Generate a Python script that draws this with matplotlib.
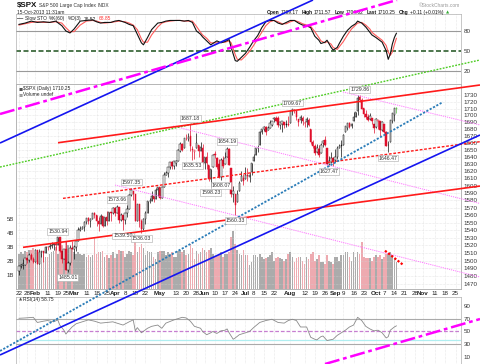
import numpy as np
import pandas as pd
import matplotlib
matplotlib.use("Agg")
import matplotlib.pyplot as plt
from matplotlib.ticker import NullLocator
from matplotlib import font_manager

plt.rcParams['font.family'] = ['Liberation Sans', 'DejaVu Sans']
_names = {f.name for f in font_manager.fontManager.ttflist}
NARROW_OK = 'Liberation Sans Narrow' in _names
NARROW = ['Liberation Sans Narrow', 'DejaVu Sans'] if NARROW_OK else ['Liberation Sans', 'DejaVu Sans']

# ---------------- data ----------------
first_day, last_day = '2013-01-22', '2013-11-29'
holidays = ['2013-02-18', '2013-03-29', '2013-05-27', '2013-07-04', '2013-09-02', '2013-11-28']

open_ = [1485.98,1492.56,1494.81,1494.82,1502.96,1500.18,1507.84,1501.96,
 1498.11,1513.17,1495.71,1511.29,1512.12,1509.39,1517.93,1517.01,1519.43,1520.33,1521.38,1519.79,1530.94,1511.95,1502.42,1515.60,1487.85,1496.94,1515.99,
 1514.68,1518.20,1525.20,1539.79,1541.46,1544.26,1551.15,1556.22,1552.48,1554.52,1563.21,1560.70,1552.10,1548.34,1558.71,1545.90,1556.89,1551.69,1563.75,1562.86,
 1569.18,1562.17,1570.25,1553.69,1559.98,1553.26,1563.11,1568.61,1587.73,1593.30,1588.84,1552.36,1574.57,1552.03,1541.61,1555.25,1562.50,1578.78,1578.78,1585.16,1582.34,1593.58,
 1597.55,1582.77,1597.60,1614.40,1617.55,1625.95,1632.69,1626.69,1632.10,1633.75,1649.13,1658.07,1652.45,1665.71,1666.20,1669.39,1651.62,1646.67,1652.63,1656.57,1649.14,1652.13,
 1631.71,1640.73,1629.05,1609.29,1625.27,1644.67,1638.64,1629.94,1612.15,1635.52,1630.64,1639.77,1651.83,1624.62,1588.62,1588.77,1577.52,1592.27,1606.44,1611.12,
 1609.78,1614.29,1611.48,1618.65,1634.20,1642.89,1652.28,1657.41,1675.26,1679.59,1682.70,1677.91,1681.05,1686.15,1694.41,1696.63,1696.06,1685.21,1687.31,1690.32,1687.92,1687.76,
 1689.42,1706.10,1708.01,1705.79,1695.30,1693.35,1696.10,1688.37,1690.65,1693.88,1679.61,1661.22,1655.25,1646.81,1650.66,1645.03,1659.92,1664.29,1652.54,1630.25,1633.50,1638.89,
 1635.95,1640.72,1653.28,1657.44,1656.85,1675.11,1681.04,1689.21,1685.04,1691.70,1697.73,1705.74,1727.34,1722.44,1711.44,1702.60,1698.02,1694.05,1695.52,1687.26,
 1682.41,1691.90,1692.35,1678.79,1687.15,1676.22,1656.99,1660.88,1691.09,1699.86,1709.17]
high = [1492.56,1496.13,1502.27,1503.26,1503.23,1509.35,1509.94,1504.19,
 1514.41,1513.17,1514.96,1512.53,1512.90,1518.31,1518.31,1522.29,1524.69,1523.14,1524.24,1530.94,1530.94,1511.95,1515.64,1525.84,1498.99,1520.08,1525.34,
 1519.99,1525.27,1543.47,1545.25,1545.78,1552.48,1556.27,1556.77,1556.39,1563.32,1563.62,1560.70,1557.25,1561.56,1558.71,1557.74,1564.91,1563.95,1564.07,1570.28,
 1570.57,1573.66,1571.47,1562.60,1559.98,1563.07,1573.89,1589.07,1597.35,1593.30,1588.84,1575.35,1574.57,1554.38,1555.89,1565.55,1579.58,1583.00,1592.64,1585.78,1596.65,1597.57,
 1597.55,1598.60,1618.46,1619.77,1626.03,1632.78,1635.01,1633.70,1636.00,1651.10,1661.49,1660.51,1667.47,1672.84,1674.93,1687.18,1655.50,1649.78,1674.21,1656.57,1661.91,1658.99,
 1640.42,1646.53,1629.31,1622.56,1644.40,1648.69,1640.13,1637.71,1639.25,1640.80,1646.50,1654.19,1652.45,1624.62,1599.19,1588.77,1593.79,1606.83,1620.07,1615.94,
 1626.61,1624.26,1618.97,1632.07,1644.68,1652.66,1656.92,1676.63,1680.19,1684.51,1683.73,1684.75,1693.12,1692.09,1697.61,1698.78,1698.38,1690.94,1691.85,1690.92,1693.19,1698.43,
 1707.85,1709.67,1709.24,1705.79,1695.30,1700.18,1699.42,1691.49,1696.81,1695.52,1679.61,1663.60,1659.18,1658.92,1656.99,1659.55,1664.85,1669.51,1652.54,1641.18,1646.41,1640.08,
 1651.35,1655.72,1659.17,1664.83,1672.40,1684.09,1689.13,1689.97,1688.73,1704.95,1705.52,1729.44,1729.86,1725.23,1711.44,1707.63,1701.71,1703.85,1695.52,1687.26,
 1696.55,1693.87,1692.35,1691.94,1687.15,1676.79,1662.47,1692.56,1703.44,1711.03,1711.57]
low = [1481.16,1489.90,1489.46,1494.82,1496.33,1498.09,1500.11,1496.76,
 1498.11,1495.02,1495.71,1504.71,1498.49,1509.39,1513.61,1515.61,1515.93,1514.02,1514.14,1519.79,1511.41,1497.29,1502.42,1487.85,1485.01,1494.88,1514.46,
 1501.48,1512.29,1525.20,1538.11,1541.46,1539.22,1547.36,1548.24,1544.00,1554.52,1555.74,1545.13,1538.57,1548.34,1543.55,1545.90,1546.22,1551.69,1551.90,1561.08,
 1558.47,1562.17,1549.80,1552.52,1539.50,1548.63,1556.89,1568.61,1586.17,1579.97,1552.28,1552.36,1543.69,1536.03,1539.40,1548.19,1562.50,1575.80,1578.78,1577.56,1582.34,1586.50,
 1581.28,1582.77,1597.60,1614.21,1611.82,1622.70,1623.09,1623.71,1626.74,1633.75,1646.68,1648.60,1652.45,1663.52,1662.67,1648.86,1635.53,1636.88,1652.63,1640.05,1648.61,1630.74,
 1622.72,1623.62,1607.09,1598.23,1625.27,1639.26,1622.92,1610.92,1608.07,1623.96,1630.34,1639.77,1628.91,1584.32,1577.70,1560.33,1577.09,1592.27,1606.44,1601.06,
 1609.78,1606.77,1604.57,1614.71,1634.20,1642.89,1647.17,1657.41,1672.33,1677.89,1671.84,1677.91,1681.05,1684.08,1690.67,1691.13,1682.57,1680.07,1676.03,1681.86,1682.42,1684.94,
 1689.42,1700.68,1703.55,1693.29,1684.91,1688.38,1686.02,1683.35,1682.62,1684.83,1658.59,1652.61,1643.06,1646.08,1639.43,1645.03,1654.81,1656.02,1629.05,1627.47,1630.88,1628.05,
 1633.41,1637.41,1653.07,1640.62,1656.85,1675.11,1678.70,1681.96,1682.22,1691.70,1697.73,1700.35,1720.20,1708.89,1697.10,1694.90,1691.88,1693.11,1687.11,1674.99,
 1682.07,1680.34,1670.36,1677.33,1674.70,1655.03,1646.47,1660.88,1688.52,1692.13,1704.02]
close = [1492.56,1494.81,1494.82,1502.96,1500.18,1507.84,1501.96,1498.11,
 1513.17,1495.71,1511.29,1512.12,1509.39,1517.93,1517.01,1519.43,1520.33,1521.38,1519.79,1530.94,1511.95,1502.42,1515.60,1487.85,1496.94,1515.99,1514.68,
 1518.20,1525.20,1539.79,1541.46,1544.26,1551.18,1556.22,1552.48,1554.52,1563.23,1560.70,1552.10,1548.34,1558.71,1545.80,1556.89,1551.69,1563.77,1562.85,1569.19,
 1562.17,1570.25,1553.69,1559.98,1553.28,1563.07,1568.61,1587.73,1593.37,1588.85,1552.36,1574.57,1552.01,1541.61,1555.25,1562.50,1578.78,1578.79,1585.16,1582.24,1593.61,1597.57,
 1582.70,1597.59,1614.42,1617.50,1625.96,1632.69,1626.67,1633.70,1633.77,1650.34,1658.78,1650.47,1667.47,1666.29,1669.16,1655.35,1650.51,1649.60,1660.06,1648.36,1654.41,1630.74,
 1640.42,1631.38,1608.90,1622.56,1643.38,1642.81,1626.13,1612.52,1636.36,1626.73,1639.04,1651.81,1628.93,1588.19,1592.43,1573.09,1588.03,1603.26,1613.20,1606.28,
 1614.96,1614.08,1615.41,1631.89,1640.46,1652.32,1652.62,1675.02,1680.19,1682.50,1676.26,1680.91,1689.37,1692.09,1695.53,1692.39,1685.94,1690.25,1691.65,1685.33,1685.96,1685.73,
 1706.87,1709.67,1707.14,1697.37,1690.91,1697.48,1691.42,1689.47,1694.16,1685.39,1661.32,1655.83,1646.06,1652.35,1642.80,1656.96,1663.50,1656.78,1630.48,1634.96,1638.17,1632.97,
 1639.77,1653.08,1655.08,1655.17,1671.71,1683.99,1689.13,1683.42,1687.99,1697.60,1704.76,1725.52,1722.34,1709.91,1701.84,1697.42,1692.77,1698.67,1691.75,1681.55,
 1695.00,1693.87,1678.66,1690.50,1676.12,1655.45,1656.40,1692.56,1703.20,1710.14,1710.25]
volume_b = [2.5,2.6,2.5,2.7,2.6,2.8,2.8,2.9,
 2.8,2.7,2.6,2.5,2.6,2.3,2.3,2.5,2.6,2.7,3.0,2.5,3.0,3.1,2.6,3.3,3.1,2.8,2.9,
 2.6,2.5,2.6,2.5,2.4,2.5,2.3,2.4,2.3,2.4,3.6,2.5,2.6,2.6,2.7,2.3,2.4,2.2,2.4,2.6,
 2.2,2.5,2.8,2.7,2.7,2.3,2.5,2.7,2.6,2.4,3.3,2.6,3.0,3.2,2.9,2.4,2.7,2.6,2.6,2.3,2.1,2.6,
 2.7,2.7,2.7,2.4,2.6,2.5,2.6,2.3,2.3,2.7,2.8,2.6,2.8,2.4,2.5,3.2,2.9,2.1,2.7,2.5,2.6,2.9,
 2.8,2.6,2.8,2.9,2.5,2.3,2.4,2.5,2.6,2.3,2.5,2.5,2.6,3.7,4.1,3.2,2.8,2.5,2.4,2.8,
 2.4,2.4,1.7,1.9,2.4,2.4,2.3,2.5,2.3,2.1,2.2,2.3,2.4,2.6,2.0,2.2,2.3,2.2,2.1,2.0,2.1,2.5,
 2.6,2.3,1.9,2.2,2.3,2.3,2.0,1.8,2.3,2.1,2.5,2.6,2.0,2.1,2.4,1.9,1.9,1.8,2.4,2.0,1.9,1.8,
 2.3,2.3,2.0,2.4,2.4,2.6,2.6,2.3,2.0,2.6,2.3,2.6,2.5,3.3,2.3,2.2,2.2,2.2,2.0,2.3,
 2.4,2.3,2.4,2.1,2.3,2.5,2.5,2.6,2.4,2.2,1.9]

tick_dates = ['2013-01-22','2013-01-28','2013-02-01','2013-02-11','2013-02-19','2013-02-25','2013-03-01',
 '2013-03-11','2013-03-18','2013-03-25','2013-04-01','2013-04-08','2013-04-15','2013-04-22','2013-05-01',
 '2013-05-13','2013-05-20','2013-05-28','2013-06-03','2013-06-10','2013-06-17','2013-06-24','2013-07-01',
 '2013-07-08','2013-07-15','2013-07-22','2013-08-01','2013-08-12','2013-08-19','2013-08-26','2013-09-03',
 '2013-09-09','2013-09-16','2013-09-23','2013-10-01','2013-10-07','2013-10-14','2013-10-21','2013-10-28',
 '2013-11-01','2013-11-11','2013-11-18','2013-11-25']
tick_text = ['22','28','Feb','11','19','25','Mar','11','18','25','Apr','8','15','22','May','13','20','28',
 'Jun','10','17','24','Jul','8','15','22','Aug','12','19','26','Sep','9','16','23','Oct','7','14','21','28',
 'Nov','11','18','25']
price_ticks = list(range(1470, 1731, 10))
vol_ticks = [1, 2, 3, 4, 5]
vol_tick_text = ['1B', '2B', '3B', '4B', '5B']

sto_x = [0,3,6,9,12,15,18,21,23,25,27,30,33,36,38,40,42,45,47,49,52,54,56,58,60,61,63,65,68,70,72,74,77,79,81,83,
 85,87,89,90,92,94,97,99,101,103,104,105,106,107,109,111,113,115,117,119,121,123,125,127,129,131,133,135,137,139,
 141,143,145,147,148,150,151,153,154,156,157,159,161,163,165,166,168,170,172,173,175,178,180,181,182,183,184,185]
sto_k = [90,92,95,93,94,93,95,88,80,77,83,95,96,97,94,92,93,93,95,96,93,90,88,75,62,59,70,82,92,93,95,96,96,96,95,96,
 93,80,75,71,65,59,65,62,64,67,55,45,35,34,40,46,55,65,73,85,94,96,96,92,90,93,96,96,92,89,
 88,85,72,66,61,63,66,55,51,55,61,72,81,87,91,95,92,86,78,74,70,63,50,37,45,60,70,76.52]
sto_d = [89,91,93,94,93,93,94,92,85,79,79,89,95,96,95,93,92,93,94,95,94,92,89,82,68,63,63,74,86,92,94,95,96,96,95,95,
 95,87,78,74,69,62,62,63,63,65,62,53,44,37,36,42,49,58,68,78,88,94,96,94,91,91,94,96,94,91,
 89,87,79,70,65,62,64,60,55,52,56,64,74,83,89,92,93,89,83,78,73,66,58,48,43,48,59,68.85]

rsi_x = [0,3,7,9,12,14,17,19,20,22,23,24,26,28,30,34,37,40,43,46,49,51,54,56,57,58,60,63,65,68,70,72,76,78,80,82,84,
 86,89,90,92,94,95,97,99,101,102,103,105,106,108,110,113,115,118,121,124,127,130,132,134,136,138,141,143,145,
 146,148,149,151,154,156,158,160,162,164,166,168,170,172,174,176,178,180,181,182,184,185]
rsi_v = [70.5,71,72,64,66,67,65,68,60,52,46,50,57,62,64,68,66,63,64,65,62,60,65,68,51,56,48,55,58,60,55,63,68,70,72,71,66,
 58,55,50,45,48,50,47,51,52,54,48,38,40,45,47,50,56,64,67,69,64,63,67,69,67,57,57,41,38,
 37,42,43,36,38,44,48,52,57,60,72,67,58,54,51,52,48,40,42,52,57,58.75]

ann_dates = ['2013-02-19','2013-02-26','2013-04-02','2013-04-11','2013-04-05','2013-04-18','2013-05-22','2013-05-23',
 '2013-06-18','2013-06-06','2013-06-13','2013-06-24','2013-08-02','2013-08-28','2013-09-19','2013-10-09']
ann_vals = [1530.94,1485.01,1573.66,1597.35,1539.50,1536.03,1687.18,1635.53,1654.19,1598.23,1608.07,1560.33,
 1709.67,1627.47,1729.86,1646.47]
ann_side = ['hi','lo','hi','hi','lo','lo','hi','lo','hi','lo','lo','lo','hi','lo','hi','lo']

# trend lines: endpoints in (trading-day index, price)
blue_lo = ([-9.31, 225.98], [1382.8, 1671.4])
blue_hi = ([-9.31, 144.12], [1659.9, 1877.6])
blue_dot = ([-9.31, 207.84], [1387.6, 1719.6])
magenta_hi = ([-9.31, 185.29], [1701.9, 1877.6])
magenta_lo = ([150.0, 225.98], [1372.1, 1426.3])
green_dot = ([-9.31, 225.98], [1625.9, 1783.0])
red_top = ([19.12, 225.98], [1660.3, 1745.0])
red_mid = ([21.57, 225.98], [1582.6, 1661.8])
red_low = ([1.96, 225.98], [1517.2, 1599.5])
red_short = ([179.41, 188.38], [1512.8, 1494.3])
pink_a = ([47.06, 225.98], [1600.9, 1478.9])
pink_b = ([75.49, 225.98], [1684.4, 1575.6])
pink_c = ([158.82, 225.98], [1734.5, 1685.9])

# ---------------- layout ----------------
for name, arr in [('open', open_), ('high', high), ('low', low), ('vol', volume_b)]:
    if len(arr) != len(close):
        raise ValueError(f'{name} length {len(arr)} != {len(close)}')

days = pd.bdate_range(first_day, last_day)
days = days[~days.isin(pd.to_datetime(holidays))]
pos = {d: i for i, d in enumerate(days)}
def di(s):
    return pos[pd.Timestamp(s)]

n = len(close)
x = np.arange(n)
o = np.array(open_); h = np.array(high); l = np.array(low); c = np.array(close)
prev = np.concatenate([[o[0]], c[:-1]])

W_PX, H_PX = 480, 364
fig = plt.figure(figsize=(4.8, 3.64), dpi=100)
fig.patch.set_facecolor('white')

def rect(top, bot, left=16, right=461):
    return [left / W_PX, 1 - bot / H_PX, (right - left) / W_PX, (bot - top) / H_PX]

def ftxt(px, py, s, **kw):
    kw.setdefault('va', 'center')
    kw.setdefault('fontsize', 4.0)
    return fig.text(px / W_PX, 1 - py / H_PX, s, **kw)

XL = (-1.47, 216.67)
tick_idx = [di(t) for t in tick_dates]
gridkw = dict(color='#d4d4d4', lw=0.4, ls=(0, (1, 1.5)))
spine_c = '#b0b0b0'

ax_sto = fig.add_axes(rect(14, 84))
ax_vol = fig.add_axes(rect(84, 289))
ax = fig.add_axes(rect(84, 289))
ax_rsi = fig.add_axes(rect(297, 364))
ax_sto.set_zorder(1); ax_rsi.set_zorder(1); ax_vol.set_zorder(2); ax.set_zorder(5)
ax.patch.set_visible(False)

def chain(prev_txt, s, gap=1.5, **kw):
    kw.setdefault('fontsize', 4.0)
    return ax_sto.annotate(s, xy=(1, 0.5), xycoords=prev_txt, xytext=(gap, 0),
                           textcoords='offset points', va='center', ha='left',
                           annotation_clip=False, **kw)

for a in (ax_sto, ax_vol, ax, ax_rsi):
    a.set_xlim(*XL)
    for s in a.spines.values():
        s.set_color(spine_c); s.set_linewidth(0.5)

# ---- volume ----
up = c >= prev
vcol = np.where(up, '#ababab', '#eeaab0')
ax_vol.bar(x, volume_b, width=0.8, color=vcol, linewidth=0)
ax_vol.set_ylim(0, 14.54)
ax_vol.set_yticks(vol_ticks)
ax_vol.set_yticklabels(vol_tick_text)
ax_vol.tick_params(axis='y', length=0, pad=1.2, labelsize=4.3, labelcolor='#333333')
ax_vol.set_xticks([])
for t in tick_idx:
    ax_vol.axvline(t, zorder=0, **gridkw)

# ---- price ----
ax.set_yscale('log')
ax.set_ylim(1463.7, 1746.5)
ax.yaxis.set_minor_locator(NullLocator())
ax.yaxis.tick_right()
ax.set_yticks(price_ticks)
ax.set_yticklabels([str(p) for p in price_ticks])
ax.tick_params(axis='y', length=0, pad=2, labelsize=4.5, labelcolor='#333333')
ax.set_xticks(tick_idx)
ax.set_xticklabels(tick_text)
ax.tick_params(axis='x', length=0, pad=1.2, labelsize=4.5, labelcolor='#222222')
for lab, txt in zip(ax.get_xticklabels(), tick_text):
    if not txt.isdigit():
        lab.set_fontweight('bold')
for p in price_ticks:
    ax.axhline(p, zorder=0, **gridkw)

red, black, green = '#e0102c', '#111111', '#55bb44'
cols = np.where(c < prev, red, black).astype(object)
cols[-1] = green
ax.vlines(x, l, h, colors=list(cols), lw=0.5, zorder=3)
bot = np.minimum(o, c)
top = np.maximum(o, c)
hgt = np.maximum(top - bot, 0.25)
face = [('white' if cc >= oo else col) for cc, oo, col in zip(c, o, cols)]
face[-1] = '#9be08a'
ax.bar(x, hgt, bottom=bot, width=0.7, color=face, edgecolor=list(cols), linewidth=0.35, zorder=4)

# trend lines (extend across whole chart)
def tl(line, **kw):
    ax.plot(line[0], line[1], clip_on=False, solid_capstyle='butt', **kw)

tl(pink_a, color='#ff77ff', lw=0.7, ls=(0, (1.2, 1.0)), zorder=6)
tl(pink_b, color='#ff77ff', lw=0.7, ls=(0, (1.2, 1.0)), zorder=6)
tl(pink_c, color='#ff77ff', lw=0.7, ls=(0, (1.2, 1.0)), zorder=6)
tl(green_dot, color='#4ccc22', lw=1.0, ls=(0, (1.3, 1.0)), zorder=7)
tl(red_top, color='#ff1a1a', lw=1.2, zorder=7)
tl(red_mid, color='#ff1a1a', lw=1.0, ls=(0, (2.0, 1.2)), zorder=7)
tl(red_low, color='#ff1a1a', lw=1.2, zorder=7)
tl(red_short, color='#ff0000', lw=1.6, ls=(0, (1.0, 0.8)), zorder=7)
tl(blue_dot, color='#2a7cb8', lw=1.3, ls=(0, (1.2, 0.9)), zorder=7)
tl(blue_lo, color='#1515f0', lw=1.2, zorder=7)
tl(blue_hi, color='#1515f0', lw=1.2, zorder=7)
tl(magenta_hi, color='#ff00ff', lw=1.8, ls=(0, (6, 1.5, 1.5, 1.5)), zorder=7)
tl(magenta_lo, color='#ff00ff', lw=1.8, ls=(0, (6, 1.5, 1.5, 1.5)), zorder=7)

for d, v, side in zip(ann_dates, ann_vals, ann_side):
    off = 4.0 if side == 'hi' else -4.0
    ax.annotate(f'{v:.2f}', (di(d), v), xytext=(0, off), textcoords='offset points',
                ha='center', va='center', fontsize=3.8, color='#333333', zorder=9,
                bbox=dict(boxstyle='square,pad=0.15', fc='white', ec='#aaaaaa', lw=0.4))

# ---- slow stochastic ----
ax_sto.set_ylim(-0.5, 105.8)
ax_sto.yaxis.tick_right()
ax_sto.set_yticks([20, 50, 80])
ax_sto.tick_params(axis='y', length=0, pad=2, labelsize=4.5, labelcolor='#333333')
ax_sto.set_xticks([])
for t in tick_idx:
    ax_sto.axvline(t, zorder=0, **gridkw)
ax_sto.axhline(80, color='#9a9a9a', lw=0.8, zorder=1)
ax_sto.axhline(20, color='#9a9a9a', lw=0.8, zorder=1)
ax_sto.axhline(50, color='#2f5f2f', lw=1.2, ls=(0, (3, 1.5)), zorder=1)
ax_sto.plot(sto_x, sto_d, color='#ff5a5a', lw=0.8, zorder=2)
ax_sto.plot(sto_x, sto_k, color='#111111', lw=0.8, zorder=3)

# ---- RSI ----
ax_rsi.set_ylim(-0.4, 103.5)
ax_rsi.yaxis.tick_right()
ax_rsi.set_yticks([10, 30, 50, 70, 90])
ax_rsi.tick_params(axis='y', length=0, pad=2, labelsize=4.5, labelcolor='#333333')
ax_rsi.set_xticks([])
for t in tick_idx:
    ax_rsi.axvline(t, zorder=0, **gridkw)
ax_rsi.axhline(70, color='#aaaaaa', lw=0.8, zorder=1)
ax_rsi.axhline(30, color='#aaaaaa', lw=0.8, zorder=1)
ax_rsi.axhline(37, color='#b0eef0', lw=0.9, zorder=1)
ax_rsi.axhline(50, color='#c77ed0', lw=0.9, ls=(0, (3, 1.5)), zorder=1)
ax_rsi.plot(rsi_x, rsi_v, color='#8a8a8a', lw=0.6, zorder=2)

# ---- header / legends ----
fs_small = 4.0 if NARROW_OK else 3.5
t0 = ftxt(16.5, 5.8, '$SPX', fontsize=5.8, weight='bold', color='#111111', family=NARROW)
t1 = chain(t0, 'S&P 500 Large Cap Index', gap=1.2, fontsize=fs_small, color='#333333', family=NARROW)
chain(t1, 'INDX', gap=1.2, fontsize=fs_small, color='#333333', family=NARROW)
ftxt(17, 12.3, '15-Oct-2013 11:31am', fontsize=fs_small, color='#222222', family=NARROW)
ftxt(460, 5.7, '\u00a9StockCharts.com', fontsize=fs_small, ha='right', color='#999999', family=NARROW)

ohlc = [('Open', True), ('1709.17', False), ('High', True), ('1711.57', False), ('Low', True),
        ('1704.02', False), ('Last', True), ('1710.25', False), ('Chg', True), ('+0.11 (+0.01%)', False)]
prev_t = ftxt(266.5, 12.3, ohlc[0][0], fontsize=fs_small, weight='bold', color='#111111', family=NARROW)
for s, b in ohlc[1:]:
    gap = 1.0 if not b else 2.2
    prev_t = chain(prev_t, s, gap=gap, fontsize=fs_small, weight='bold' if b else 'normal',
                   color='#111111', family=NARROW)
chain(prev_t, '\u25b2', gap=1.5, fontsize=3.0, color='#33aa33', family='DejaVu Sans')

t = ftxt(17, 18.3, '\u2014', fontsize=4.5, color='#111111', weight='bold')
t = chain(t, 'Slow STO', gap=1.0, fontsize=fs_small, color='#222222', family=NARROW)
t = chain(t, '%K(60)', gap=2.0, fontsize=fs_small, color='#222222', family=NARROW)
t = chain(t, '%D(3)', gap=1.5, fontsize=fs_small, color='#222222', family=NARROW)
t = chain(t, '76.52,', gap=1.5, fontsize=fs_small, color='#222222', family=NARROW)
chain(t, '68.85', gap=1.2, fontsize=fs_small, color='#ff3333', family=NARROW)

ftxt(18.5, 88.3, '\u25aa', fontsize=4.5, color='#555555', family='DejaVu Sans')
ftxt(23, 88.3, '$SPX (Daily) 1710.25', fontsize=fs_small, color='#222222', family=NARROW)
ftxt(18.5, 95, '\u25aa', fontsize=4.5, color='#999999', family='DejaVu Sans')
ftxt(23, 95, 'Volume undef', fontsize=fs_small, color='#222222', family=NARROW)

ftxt(18.5, 299.5, '\u25b2', fontsize=3.0, color='#555555', family='DejaVu Sans')
ftxt(23, 299.5, 'RSI(14) 58.75', fontsize=fs_small, color='#222222', family=NARROW)

fig.savefig('out.png', dpi=100, facecolor='white')
